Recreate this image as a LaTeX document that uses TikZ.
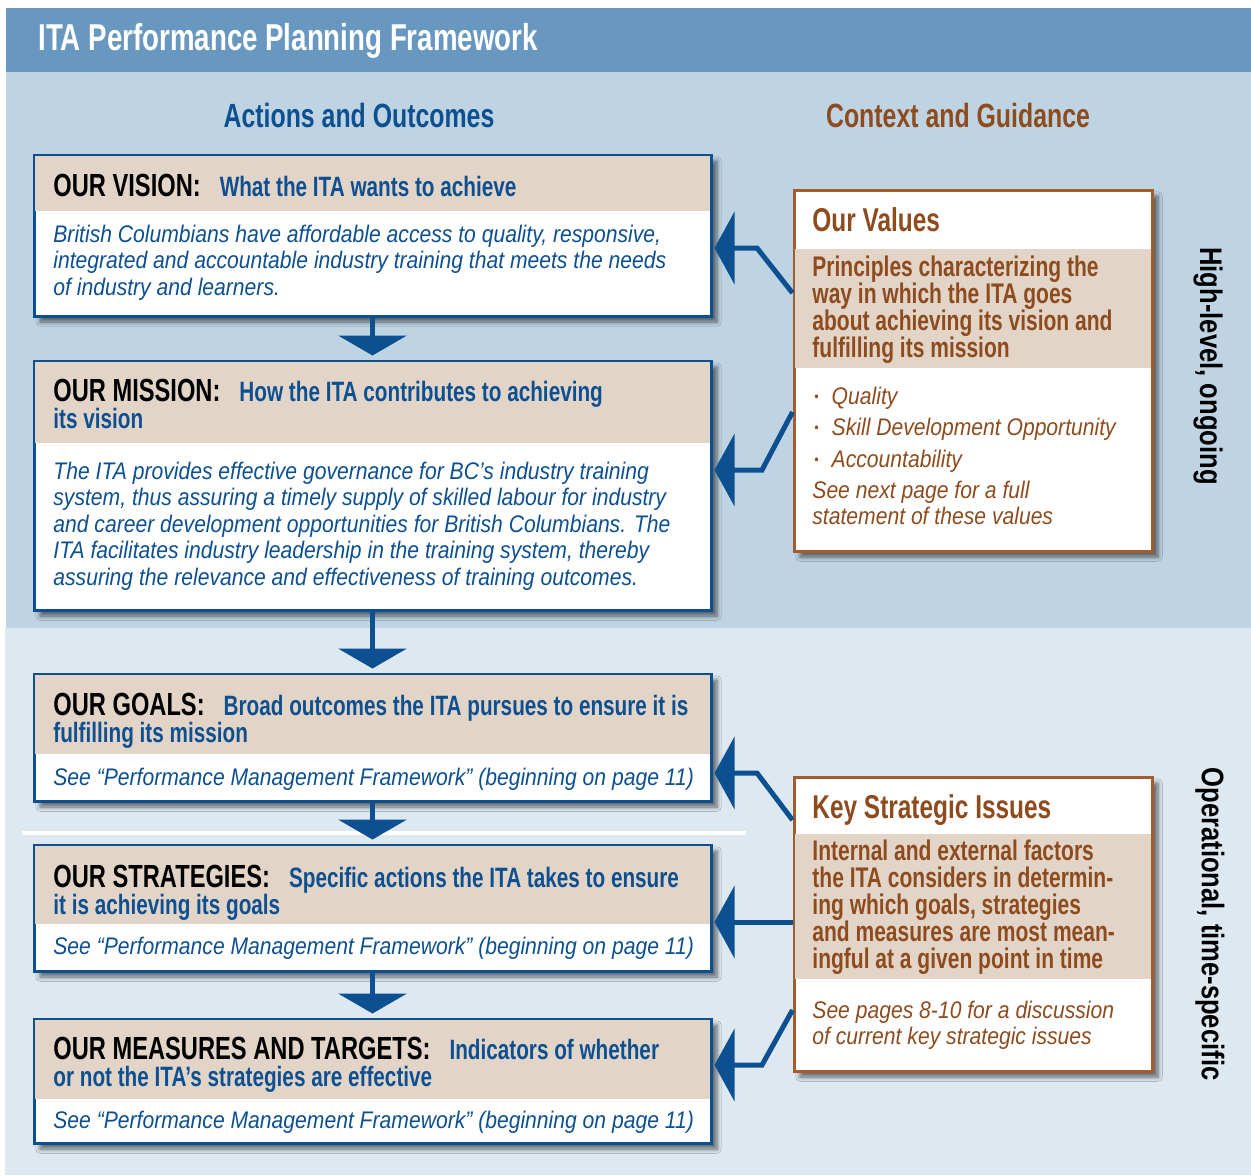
\documentclass[tikz,border=0pt]{standalone}
\usepackage{fontspec}
\setmainfont{Liberation Sans}
\newfontfamily\condfont[FakeStretch=0.74]{Liberation Sans}
\newfontfamily\narrowfont[FakeStretch=0.82]{Liberation Sans}
\newfontfamily\lightfont[FakeStretch=0.88]{Liberation Sans}
\usetikzlibrary{arrows.meta,positioning,calc,fit,shadows.blur}
\definecolor{itablue}{HTML}{0D5091}
\definecolor{itabrown}{HTML}{8E4C1E}
\definecolor{boxbrown}{HTML}{A35D2D}
\definecolor{bandtan}{HTML}{E2D5C8}
\definecolor{headblue}{HTML}{6898BF}
\definecolor{upperbg}{HTML}{BFD4E3}
\definecolor{lowerbg}{HTML}{DDE8F1}
\newcommand{\subfont}{\color{itablue}\fontsize{14}{13.5}\selectfont}
\newcommand{\dotmark}{{\fontsize{7}{7}\selectfont\raisebox{1.5pt}{\textbullet}}\hspace{6.5pt}}

\begin{document}
\begin{tikzpicture}[x=0.5pt, y=-0.5pt,
  every node/.style={inner sep=0pt},
  panel/.style={fill=#1, inner sep=0pt},
  outcome/.style={draw=itablue, line width=1.5pt, fill=white, inner sep=0pt,
    blur shadow={shadow xshift=3pt, shadow yshift=-3pt, shadow blur steps=6,
      shadow opacity=55}},
  guide/.style={outcome, draw=boxbrown},
  band/.style={fill=bandtan, inner sep=0pt},
  head/.style={anchor=base west, align=left,
    font=\condfont\bfseries\fontsize{16}{13.5}\selectfont},
  sub/.style={anchor=base west, align=left, text=itabrown,
    font=\condfont\bfseries\fontsize{14.2}{13.5}\selectfont},
  body/.style={anchor=base west, align=left, text=#1,
    font=\lightfont\itshape\fontsize{12}{13.25}\selectfont},
  coltitle/.style={anchor=base, text=#1,
    font=\condfont\bfseries\fontsize{16.8}{17}\selectfont},
  sidelabel/.style={rotate=-90,
    font=\narrowfont\bfseries\fontsize{15.6}{16}\selectfont},
  flow/.style={draw=itablue, line width=2.5pt,
    -{Triangle[width=34pt, length=10pt]}, shorten >=2pt},
  link/.style={draw=itablue, line width=2.5pt,
    -{Triangle[width=36pt, length=10pt]}, shorten >=1pt}]

  \useasboundingbox (0,0) rectangle (1251,1175);
  \node[panel=headblue, fit={(6,8) (1251,72)}] (header) {};
  \node[panel=upperbg, fit={(6,72) (1251,628)}] (upper) {};
  \node[panel=lowerbg, fit={(5,628) (1251,1175)}] (lower) {};
  \draw[white, line width=2pt] (22,833) -- (746,833);

  \node[anchor=base west, text=white,
    font=\condfont\bfseries\fontsize{18.7}{20}\selectfont] (title) at (38,50)
    {ITA Performance Planning Framework};
  \node[coltitle=itablue] (actions) at (359,127) {Actions and Outcomes};
  \node[coltitle=itabrown] (context) at (958,127) {Context and Guidance};

  \node[outcome, fit={(34,155) (711,316)}] (vision) {};
  \node[band, fit={(35,156) (710,211)}] (visionhead) {};
  \node[outcome, fit={(34,361) (711,610)}] (mission) {};
  \node[band, fit={(35,362) (710,443)}] (missionhead) {};
  \node[outcome, fit={(34,674) (711,801)}] (goals) {};
  \node[band, fit={(35,675) (710,754)}] (goalshead) {};
  \node[outcome, fit={(34,845) (711,971)}] (strategies) {};
  \node[band, fit={(35,846) (710,924)}] (strategieshead) {};
  \node[outcome, fit={(34,1019) (711,1143)}] (measures) {};
  \node[band, fit={(35,1020) (710,1099)}] (measureshead) {};

  \node[guide, fit={(794,190) (1152,551)}] (values) {};
  \node[band, fit={(795,249) (1151,368)}] (valuesband) {};
  \node[guide, fit={(794,777) (1152,1071)}] (issues) {};
  \node[band, fit={(795,834) (1151,979)}] (issuesband) {};

  \node[head] (visiontext) at (53,196.5)
    {OUR VISION:\hspace{9.5pt}{\subfont What the ITA wants to achieve}};
  \node[body=itablue] (visionbody) at (53,295)
    {British Columbians have affordable access to quality, responsive,\\
     integrated and accountable industry training that meets the needs\\
     of industry and learners.};

  \node[head] (missiontext) at (53,428.5)
    {OUR MISSION:\hspace{9.5pt}{\subfont How the ITA contributes to achieving}\\
     {\subfont its vision}};
  \node[body=itablue] (missionbody) at (53,585)
    {The ITA provides effective governance for BC’s industry training\\
     system, thus assuring a timely supply of skilled labour for industry\\
     and career development opportunities for British Columbians. The\\
     ITA facilitates industry leadership in the training system, thereby\\
     assuring the relevance and effectiveness of training outcomes.};

  \node[head] (goalstext) at (53,742)
    {OUR GOALS:\hspace{9.5pt}{\subfont Broad outcomes the ITA pursues to ensure it is}\\
     {\subfont fulfilling its mission}};
  \node[body=itablue] (goalsbody) at (53,785)
    {See “Performance Management Framework” (beginning on page 11)};

  \node[head] (strategiestext) at (53,914)
    {OUR STRATEGIES:\hspace{9.5pt}{\subfont Specific actions the ITA takes to ensure}\\
     {\subfont it is achieving its goals}};
  \node[body=itablue] (strategiesbody) at (53,954)
    {See “Performance Management Framework” (beginning on page 11)};

  \node[head] (measurestext) at (53,1086)
    {OUR MEASURES AND TARGETS:\hspace{9.5pt}{\subfont Indicators of whether}\\
     {\subfont or not the ITA’s strategies are effective}};
  \node[body=itablue] (measuresbody) at (53,1128)
    {See “Performance Management Framework” (beginning on page 11)};

  \node[head, text=itabrown, font=\condfont\bfseries\fontsize{16.5}{18}\selectfont]
    (valuestitle) at (812,231) {Our Values};
  \node[sub] (valuestext) at (812,357)
    {Principles characterizing the\\way in which the ITA goes\\
     about achieving its vision and\\fulfilling its mission};
  \node[body=itabrown, font=\lightfont\itshape\fontsize{12}{15.75}\selectfont]
    (valueslist) at (814,467)
    {\dotmark Quality\\ \dotmark Skill Development Opportunity\\ \dotmark Accountability};
  \node[body=itabrown] (valuesnote) at (812,524.5)
    {See next page for a full\\statement of these values};

  \node[head, text=itabrown, font=\condfont\bfseries\fontsize{16.5}{18}\selectfont]
    (issuestitle) at (812,818) {Key Strategic Issues};
  \node[sub] (issuestext) at (812,968)
    {Internal and external factors\\the ITA considers in determin-\\
     ing which goals, strategies\\and measures are most mean-\\
     ingful at a given point in time};
  \node[body=itabrown] (issuesnote) at (812,1044.5)
    {See pages 8-10 for a discussion\\of current key strategic issues};

  \node[sidelabel] (highlevel) at (1208,366) {High-level, ongoing};
  \node[sidelabel] (operational) at (1210,924) {Operational, time-specific};

  \draw[flow] (vision) -- (mission);
  \draw[flow] (mission) -- (goals);
  \draw[flow] (goals) -- (strategies);
  \draw[flow] (strategies) -- (measures);

  \coordinate (vb1) at (757,248);
  \coordinate (vb2) at (762,470);
  \coordinate (ib1) at (757,773);
  \coordinate (ib2) at (762,1065);
  \draw[link] (values.west |- 0,293) -- (vb1) -- (vision.east |- vb1);
  \draw[link] (values.west |- 0,412) -- (vb2) -- (mission.east |- vb2);
  \draw[link] (issues.west |- 0,820) -- (ib1) -- (goals.east |- ib1);
  \draw[link] (issues.west |- 0,922) -- (strategies.east |- 0,922);
  \draw[link] (issues.west |- 0,1010) -- (ib2) -- (measures.east |- ib2);
\end{tikzpicture}
\end{document}
